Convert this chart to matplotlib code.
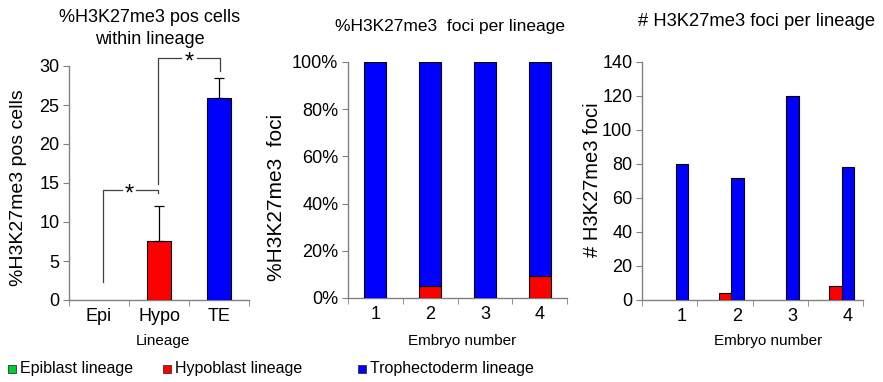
import matplotlib
matplotlib.use("Agg")
import matplotlib.pyplot as plt
from matplotlib.lines import Line2D

plt.rcParams['font.family'] = ['Liberation Sans', 'DejaVu Sans']

# ---------------- data ----------------
lineages = ["Epi", "Hypo", "TE"]
pct_pos_cells = [0.0, 7.6, 25.9]
pct_pos_err = [0.0, 4.4, 2.5]

embryos = ["1", "2", "3", "4"]
pct_foci_hypo = [0.0, 5.1, 0.0, 9.2]
pct_foci_te = [100.0, 94.9, 100.0, 90.8]

n_foci_epi = [0, 0, 0, 0]
n_foci_hypo = [0, 4, 0, 8]
n_foci_te = [80, 72, 120, 78]

legend_labels = ["Epiblast lineage", "Hypoblast lineage", "Trophectoderm lineage"]

# ---------------- style ----------------
W, H = 883, 382
C_EPI = "#00cc33"
C_HYPO = "#ff0000"
C_TE = "#0000ff"
GRAY = "#808080"
TICK_FS = 13
fig = plt.figure(figsize=(W / 100, H / 100), dpi=100)


def px_axes(left, right, top, bottom):
    return fig.add_axes([left / W, (H - bottom) / H, (right - left) / W, (bottom - top) / H])


def style(ax):
    for s in ["top", "right"]:
        ax.spines[s].set_visible(False)
    for s in ["left", "bottom"]:
        ax.spines[s].set_color(GRAY)
        ax.spines[s].set_linewidth(1.0)
    ax.tick_params(axis="y", direction="out", length=4, color=GRAY, labelsize=TICK_FS, pad=3)
    ax.tick_params(axis="x", which="major", length=0, labelsize=TICK_FS, pad=6)
    ax.tick_params(axis="x", which="minor", direction="out", length=4, color=GRAY)


def fig_text(x, y, s, **kw):
    fig.text(x / W, 1 - y / H, s, ha="center", va="center", **kw)


# ---------------- panel 1 ----------------
ax1 = px_axes(69, 249, 66, 300)
x1 = list(range(len(lineages)))
cols1 = [C_EPI, C_HYPO, C_TE]
for i in x1:
    if pct_pos_cells[i] > 0:
        ax1.bar(i, pct_pos_cells[i], width=0.4, color=cols1[i], edgecolor="black", linewidth=0.8, zorder=3)
        ax1.errorbar(i, pct_pos_cells[i], yerr=[[0], [pct_pos_err[i]]], fmt="none",
                     ecolor="black", elinewidth=0.9, capsize=3.5, capthick=0.9, zorder=4)
ax1.set_xlim(-0.5, 2.5)
ax1.set_ylim(0, 30)
ax1.set_yticks(range(0, 31, 5))
ax1.set_xticks(x1)
ax1.set_xticklabels(lineages)
ax1.set_xticks([-0.5, 0.5, 1.5, 2.5], minor=True)
style(ax1)

# significance brackets
bc = "#404040"
ax1.plot([0.07, 0.07, 0.38], [2.3, 14.1, 14.1], color=bc, lw=0.9, clip_on=False)
ax1.plot([0.62, 0.98, 0.98], [14.1, 14.1, 13.7], color=bc, lw=0.9, clip_on=False)
ax1.text(0.5, 13.5, "*", ha="center", va="center", fontsize=17)
ax1.plot([0.98, 0.98, 1.36], [14.9, 31.0, 31.0], color=bc, lw=0.9, clip_on=False)
ax1.plot([1.64, 2.02, 2.02], [31.0, 31.0, 29.4], color=bc, lw=0.9, clip_on=False)
ax1.text(1.5, 30.4, "*", ha="center", va="center", fontsize=17)

fig_text(150, 18, "%H3K27me3 pos cells", fontsize=13)
fig_text(150, 39, "within lineage", fontsize=13)
fig_text(19, 188, "%H3K27me3 pos cells", fontsize=14, rotation=90)
fig_text(163, 341, "Lineage", fontsize=11)

# ---------------- panel 2 ----------------
ax2 = px_axes(348, 567, 62, 298)
x2 = list(range(len(embryos)))
ax2.bar(x2, pct_foci_hypo, width=0.4, color=C_HYPO, edgecolor="black",
        linewidth=[0.8 if v > 0 else 0 for v in pct_foci_hypo], zorder=3)
ax2.bar(x2, pct_foci_te, width=0.4, bottom=pct_foci_hypo, color=C_TE, edgecolor="black",
        linewidth=0.8, zorder=3)
ax2.set_xlim(-0.5, 3.5)
ax2.set_ylim(0, 100)
ax2.set_yticks(range(0, 101, 20))
ax2.set_yticklabels([f"{v}%" for v in range(0, 101, 20)])
ax2.set_xticks(x2)
ax2.set_xticklabels(embryos)
ax2.set_xticks([-0.5, 0.5, 1.5, 2.5, 3.5], minor=True)
style(ax2)
fig_text(450, 27, "%H3K27me3  foci per lineage", fontsize=12.5)
fig_text(276, 197, "%H3K27me3  foci", fontsize=15, rotation=90)
fig_text(462, 341, "Embryo number", fontsize=11)

# ---------------- panel 3 ----------------
ax3 = px_axes(642, 863, 62, 300)
w3 = 0.226
for vals, off, col in [(n_foci_epi, -w3, C_EPI), (n_foci_hypo, 0.0, C_HYPO), (n_foci_te, w3, C_TE)]:
    ax3.bar([i + off for i in x2], vals, width=w3, color=col, edgecolor="black",
            linewidth=[0.8 if v > 0 else 0 for v in vals], zorder=3)
ax3.set_xlim(-0.5, 3.5)
ax3.set_ylim(0, 140)
ax3.set_yticks(range(0, 141, 20))
ax3.set_xticks([i + w3 for i in x2])
ax3.set_xticklabels(embryos)
ax3.set_xticks([-0.5, 0.5, 1.5, 2.5, 3.5], minor=True)
style(ax3)
fig_text(757, 21, "# H3K27me3 foci per lineage", fontsize=13.2)
fig_text(592, 180, "# H3K27me3 foci", fontsize=14.5, rotation=90)
fig_text(768, 341, "Embryo number", fontsize=11)

# ---------------- legend ----------------
for (sx, tx), lab, col in zip([(12, 20), (167, 175), (362, 370)], legend_labels, [C_EPI, C_HYPO, C_TE]):
    fig.add_artist(Line2D([sx / W], [1 - 369 / H], marker="s", markersize=5.5,
                          markerfacecolor=col, markeredgecolor="#333333", markeredgewidth=0.6,
                          linestyle="none", transform=fig.transFigure))
    fig.text(tx / W, 1 - 369 / H, lab, ha="left", va="center", fontsize=11.5)

fig.savefig("out.png", dpi=100)
